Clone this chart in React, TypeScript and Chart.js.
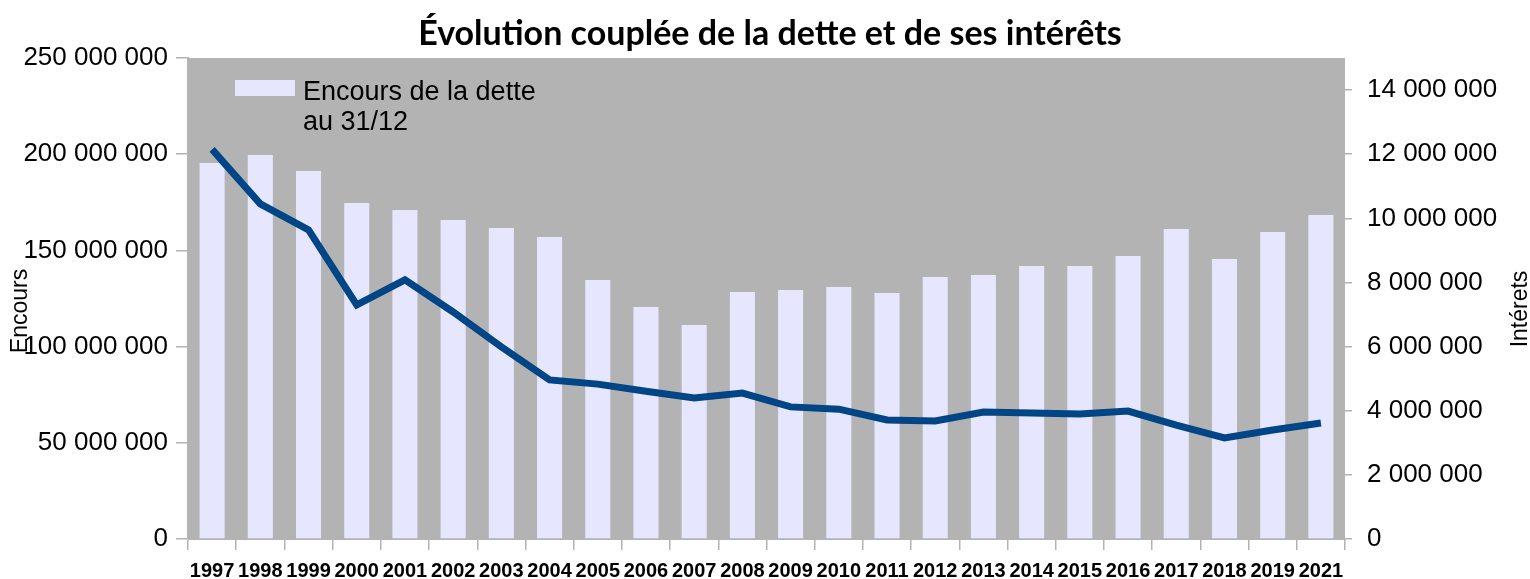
import React, { useEffect, useRef } from 'react';
import { Chart, registerables } from 'chart.js';

Chart.register(...registerables);

const years = [
  '1997', '1998', '1999', '2000', '2001', '2002', '2003', '2004', '2005', '2006',
  '2007', '2008', '2009', '2010', '2011', '2012', '2013', '2014', '2015', '2016',
  '2017', '2018', '2019', '2021',
];

const encours = [
  195400000, 199600000, 191300000, 174700000, 171000000, 165800000, 161700000, 157000000,
  134600000, 120600000, 111200000, 128400000, 129400000, 131000000, 127900000, 136200000,
  137200000, 141900000, 141900000, 147100000, 161100000, 145500000, 159600000, 168400000,
];

const interets = [
  12150000, 10450000, 9640000, 7300000, 8080000, 7080000, 5990000, 4960000,
  4830000, 4610000, 4400000, 4550000, 4120000, 4050000, 3710000, 3680000,
  3960000, 3930000, 3900000, 3990000, 3550000, 3150000, 3400000, 3620000,
];

const leftTicks = [0, 50000000, 100000000, 150000000, 200000000, 250000000];
const rightTicks = [0, 2000000, 4000000, 6000000, 8000000, 10000000, 12000000, 14000000];
const leftMax = 250000000;
const rightMax = 15000000;

const titleText = 'Évolution couplée de la dette et de ses intérêts';
const leftTitle = 'Encours';
const rightTitle = 'Intérets';
const legendLines = ['Encours de la dette', 'au 31/12'];

const fmt = (v: number) => Math.round(v).toString().replace(/\B(?=(\d{3})+(?!\d))/g, ' ');

const BAR_COLOR = '#e6e6ff';
const LINE_COLOR = '#004586';
const PLOT_BG = '#b3b3b3';
const AXIS_COLOR = '#b3b3b3';

const decor = {
  id: 'decor',
  beforeDraw(chart: any) {
    const { ctx, chartArea: a } = chart;
    ctx.save();
    ctx.fillStyle = PLOT_BG;
    ctx.fillRect(a.left, a.top, a.right - a.left, a.bottom - a.top);
    ctx.restore();
  },
  afterDraw(chart: any) {
    const { ctx, chartArea: a } = chart;
    ctx.save();
    // Title
    ctx.fillStyle = '#000';
    ctx.font = 'bold 34px Lato';
    ctx.textAlign = 'center';
    ctx.textBaseline = 'alphabetic';
    ctx.fillText(titleText, 770, 45);

    // Axis titles
    ctx.font = '23px "Liberation Sans"';
    ctx.textBaseline = 'middle';
    ctx.save();
    ctx.translate(21, 311);
    ctx.rotate(-Math.PI / 2);
    ctx.fillText(leftTitle, 0, 0);
    ctx.restore();
    ctx.save();
    ctx.translate(1521, 309);
    ctx.rotate(-Math.PI / 2);
    ctx.fillText(rightTitle, 0, 0);
    ctx.restore();

    // Legend (bar series only)
    const lx = a.left + 47;
    const ly = a.top + 22;
    ctx.fillStyle = BAR_COLOR;
    ctx.fillRect(lx, ly, 60, 16);
    ctx.fillStyle = '#000';
    ctx.font = '27px "Liberation Sans"';
    ctx.textAlign = 'left';
    ctx.textBaseline = 'alphabetic';
    legendLines.forEach((t, i) => ctx.fillText(t, lx + 68, ly + 20 + i * 30));
    ctx.restore();
  },
};

export default function App() {
  const ref = useRef<HTMLCanvasElement>(null);

  useEffect(() => {
    if (!ref.current) return;
    const chart = new Chart(ref.current, {
      data: {
        labels: years,
        datasets: [
          {
            type: 'line',
            label: 'Intérêts',
            data: interets,
            yAxisID: 'y1',
            borderColor: LINE_COLOR,
            backgroundColor: LINE_COLOR,
            borderWidth: 7,
            pointRadius: 0,
            tension: 0,
            order: 0,
          },
          {
            type: 'bar',
            label: 'Encours de la dette au 31/12',
            data: encours,
            yAxisID: 'y',
            backgroundColor: BAR_COLOR,
            borderWidth: 0,
            categoryPercentage: 1,
            barPercentage: 0.52,
            order: 1,
          },
        ],
      } as any,
      options: {
        responsive: false,
        animation: false,
        devicePixelRatio: 1,
        layout: { padding: { top: 58, left: 0, right: 0, bottom: 0 } },
        plugins: {
          legend: { display: false },
          title: { display: false },
          tooltip: { enabled: false },
        },
        scales: {
          x: {
            type: 'category',
            offset: true,
            afterFit: (s: any) => { s.height = 40; },
            grid: {
              offset: true,
              drawOnChartArea: false,
              drawTicks: true,
              tickLength: 11,
              color: AXIS_COLOR,
              lineWidth: 1.5,
            },
            border: { display: true, color: AXIS_COLOR, width: 1 },
            ticks: {
              autoSkip: false,
              maxRotation: 0,
              minRotation: 0,
              padding: 9,
              color: '#000',
              font: { family: '"Liberation Sans"', size: 20, weight: 'bold' },
            },
          },
          y: {
            type: 'linear',
            position: 'left',
            min: 0,
            max: leftMax,
            afterFit: (s: any) => { s.width = 188; },
            afterBuildTicks: (s: any) => {
              s.ticks = leftTicks.map((v) => ({ value: v }));
            },
            grid: {
              drawOnChartArea: false,
              drawTicks: true,
              tickLength: 12,
              color: AXIS_COLOR,
              lineWidth: 1.5,
            },
            border: { display: true, color: AXIS_COLOR, width: 2 },
            ticks: {
              autoSkip: false,
              padding: 8,
              color: '#000',
              font: { family: '"Liberation Sans"', size: 26 },
              callback: (v: any) => fmt(Number(v)),
            },
          },
          y1: {
            type: 'linear',
            position: 'right',
            min: 0,
            max: rightMax,
            afterFit: (s: any) => { s.width = 185; },
            afterBuildTicks: (s: any) => {
              s.ticks = rightTicks.map((v) => ({ value: v }));
            },
            grid: {
              drawOnChartArea: false,
              drawTicks: true,
              tickLength: 7,
              color: AXIS_COLOR,
              lineWidth: 1.5,
            },
            border: { display: false },
            ticks: {
              autoSkip: false,
              padding: 15,
              color: '#000',
              font: { family: '"Liberation Sans"', size: 26 },
              callback: (v: any) => fmt(Number(v)),
            },
          },
        },
      } as any,
      plugins: [decor],
    });
    return () => chart.destroy();
  }, []);

  return (
    <div style={{ position: 'absolute', left: 0, top: 0, width: 1530, height: 579, background: '#fff' }}>
      <canvas ref={ref} width={1530} height={579} style={{ width: 1530, height: 579, display: 'block' }} />
    </div>
  );
}
